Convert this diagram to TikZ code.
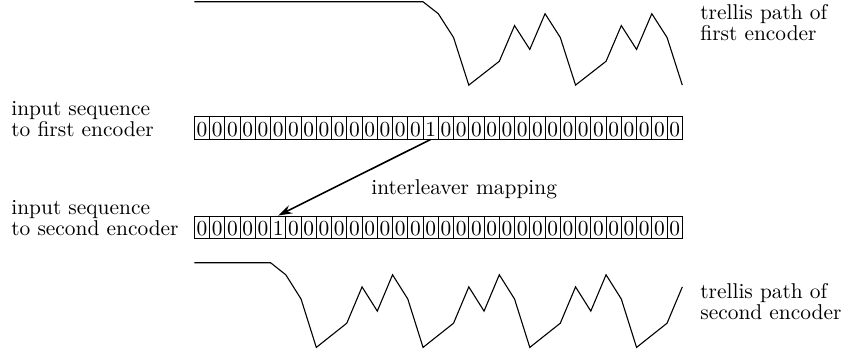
\documentclass[tikz,border=0pt]{standalone}
\usetikzlibrary{arrows.meta}
\begin{document}
\begin{tikzpicture}[x={(0.5pt,0)}, y={(0,-0.5pt)},
  txt/.style={inner sep=0pt, anchor=base west, font=\fontsize{10.7}{12.8}\selectfont},
  bit/.style={draw, line width=0.45pt, inner sep=0pt, anchor=base,
    minimum width=7.625pt, text height=9.8pt, text depth=1.35pt,
    font=\fontsize{10.7}{12.8}\selectfont},
  trellis/.style={line width=0.55pt},
  mapping/.style={-{Stealth[length=7pt,width=4.4pt]}, line width=0.8pt}]
\useasboundingbox (0,0) rectangle (846,353);

% trellis path of the first encoder
\draw[trellis] (194.3,1.8)
  \foreach \k/\l in {15/0,16/1,17/3,18/7,20/5,21/2,22/4,23/1,24/3,25/7,27/5,28/2,29/4,30/1,31/3,32/7}
    { -- ({194.3+15.25*\k},{1.8+11.9*\l}) };

% input sequence to the first encoder
\foreach \k in {0,...,31}
  \node[bit] (t\k) at ({194.3+15.25*(\k+0.5)},136.3) {\ifnum\k=15 1\else 0\fi};

% input sequence to the second encoder
\foreach \k in {0,...,31}
  \node[bit] (b\k) at ({194.3+15.25*(\k+0.5)},235.6) {\ifnum\k=5 1\else 0\fi};

% trellis path of the second encoder
\draw[trellis] (194.3,262.7)
  \foreach \k/\l in {5/0,6/1,7/3,8/7,10/5,11/2,12/4,13/1,14/3,15/7,17/5,18/2,19/4,20/1,21/3,22/7,24/5,25/2,26/4,27/1,28/3,29/7,31/5,32/2}
    { -- ({194.3+15.25*\k},{262.7+12.1*\l}) };

% interleaver mapping of the single 1
\draw[mapping] (t15.south) -- (b5.north);
\node[txt] (maplbl) at (371,194.3) {interleaver mapping};

% labels
\node[txt] (inA1) at (11,116) {input sequence};
\node[txt] (inA2) at (11,137) {to first encoder};
\node[txt] (inB1) at (11,214.6) {input sequence};
\node[txt] (inB2) at (11,235.6) {to second encoder};
\node[txt] (trA1) at (700,19.5) {trellis path of};
\node[txt] (trA2) at (700,41) {first encoder};
\node[txt] (trB1) at (700,298) {trellis path of};
\node[txt] (trB2) at (700,319.5) {second encoder};
\end{tikzpicture}
\end{document}
